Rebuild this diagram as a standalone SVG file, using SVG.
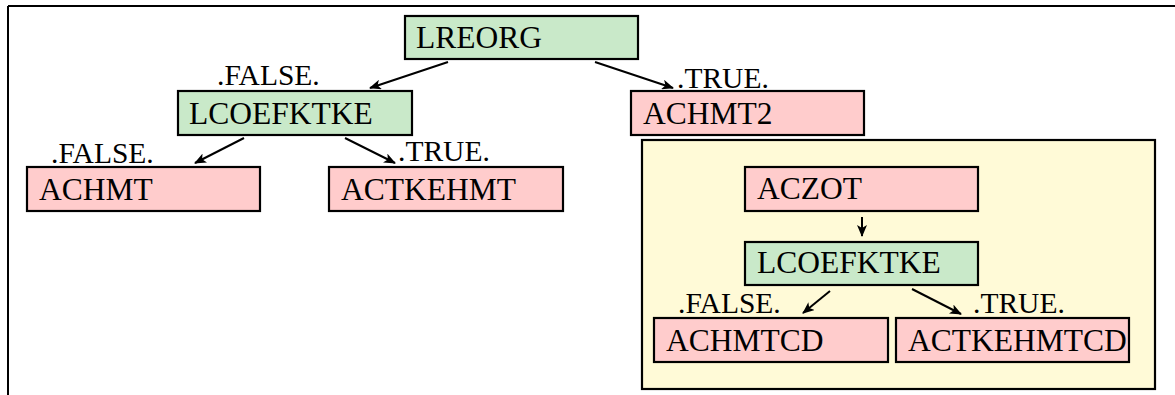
<svg xmlns="http://www.w3.org/2000/svg" width="1175" height="395" viewBox="0 0 1175 395">
<style>
.n rect{stroke:#000;stroke-width:2.2}
.g rect{fill:#c9e9c9}
.p rect{fill:#ffcccc}
text{font-family:"Liberation Serif","Times New Roman",serif;fill:#000}
.t{font-size:31.5px}
.l{font-size:29.5px}
.c line{stroke:#000;stroke-width:2;marker-end:url(#ah)}
</style>
<defs>
<marker id="ah" markerWidth="12" markerHeight="10" refX="11" refY="5" orient="auto" markerUnits="userSpaceOnUse">
<path d="M0,0 L12,5 L0,10 L3,5 z" fill="#000"/>
</marker>
</defs>
<rect width="1175" height="395" fill="#fff"/>
<g id="frame" fill="none" stroke="#000" stroke-width="2">
<line x1="8" y1="6" x2="1175" y2="6"/>
<line x1="8" y1="6" x2="8" y2="395"/>
</g>
<g id="cluster">
<rect x="642" y="140" width="513" height="249" fill="#fffad7" stroke="#000" stroke-width="2.2"/>
</g>
<g id="LREORG" class="n g"><rect x="405" y="16" width="233" height="43"/><text class="t" x="416" y="48">LREORG</text></g>
<g id="LCOEFKTKE1" class="n g"><rect x="178" y="91" width="234" height="44"/><text class="t" x="189" y="124">LCOEFKTKE</text></g>
<g id="ACHMT2" class="n p"><rect x="631" y="91" width="233" height="44"/><text class="t" x="643" y="124">ACHMT2</text></g>
<g id="ACHMT" class="n p"><rect x="27" y="167" width="233" height="44"/><text class="t" x="39" y="200">ACHMT</text></g>
<g id="ACTKEHMT" class="n p"><rect x="329" y="167" width="234" height="44"/><text class="t" x="341" y="200">ACTKEHMT</text></g>
<g id="ACZOT" class="n p"><rect x="745" y="167" width="233" height="44"/><text class="t" x="757" y="199">ACZOT</text></g>
<g id="LCOEFKTKE2" class="n g"><rect x="745" y="242" width="233" height="43"/><text class="t" x="757" y="273">LCOEFKTKE</text></g>
<g id="ACHMTCD" class="n p"><rect x="654" y="318" width="234" height="44"/><text class="t" x="666" y="351">ACHMTCD</text></g>
<g id="ACTKEHMTCD" class="n p"><rect x="896" y="318" width="233" height="44"/><text class="t" x="908" y="351">ACTKEHMTCD</text></g>
<g id="connectors" class="c">
<line x1="448" y1="62" x2="370" y2="88"/>
<line x1="595" y1="62" x2="673" y2="88"/>
<line x1="244" y1="138" x2="195" y2="163"/>
<line x1="345" y1="138" x2="395" y2="163"/>
<line x1="862" y1="217" x2="862" y2="236"/>
<line x1="830" y1="291" x2="803" y2="313"/>
<line x1="912" y1="289" x2="961" y2="314"/>
</g>
<g id="labels" class="l">
<text x="217" y="85">.FALSE.</text>
<text x="677" y="88">.TRUE.</text>
<text x="51" y="163">.FALSE.</text>
<text x="398" y="161">.TRUE.</text>
<text x="678" y="313">.FALSE.</text>
<text x="973" y="313">.TRUE.</text>
</g>
</svg>
